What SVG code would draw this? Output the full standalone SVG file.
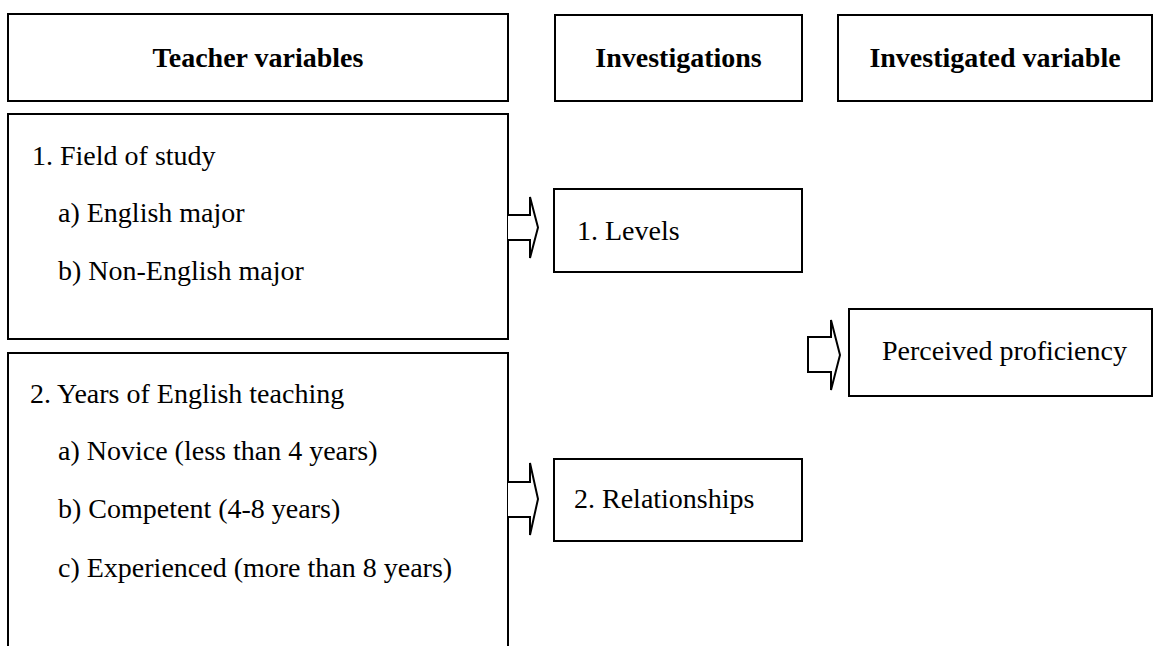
<svg xmlns="http://www.w3.org/2000/svg" width="1160" height="646" viewBox="0 0 1160 646">
<style>
.box{fill:#fff;stroke:#000;stroke-width:2}
.arr{fill:#fff;stroke:#000;stroke-width:2;stroke-linejoin:miter}
.h{font-family:"Liberation Serif","Times New Roman",serif;font-weight:bold;font-size:28px;fill:#000;text-anchor:middle}
.t{font-family:"Liberation Serif","Times New Roman",serif;font-size:28px;fill:#000}
</style>
<rect width="1160" height="646" fill="#fff"/>
<g id="teacher-variables">
<rect class="box" x="8" y="14" width="500" height="87"/>
<text class="h" x="258" y="67">Teacher variables</text>
</g>
<g id="investigations">
<rect class="box" x="555" y="15" width="247" height="86"/>
<text class="h" x="678.5" y="67">Investigations</text>
</g>
<g id="investigated-variable">
<rect class="box" x="838" y="15" width="314" height="86"/>
<text class="h" x="995" y="67">Investigated variable</text>
</g>
<g id="field-of-study">
<rect class="box" x="8" y="114" width="500" height="225"/>
<text class="t" x="32" y="165">1. Field of study</text>
<text class="t" x="58" y="222">a) English major</text>
<text class="t" x="58" y="280">b) Non-English major</text>
</g>
<g id="years-teaching">
<rect class="box" x="8" y="353" width="500" height="310"/>
<text class="t" x="30" y="403">2. Years of English teaching</text>
<text class="t" x="58" y="460">a) Novice (less than 4 years)</text>
<text class="t" x="58" y="518">b) Competent (4-8 years)</text>
<text class="t" x="58" y="577">c) Experienced (more than 8 years)</text>
</g>
<g id="levels">
<rect class="box" x="554" y="189" width="248" height="83"/>
<text class="t" x="577" y="240">1. Levels</text>
</g>
<g id="relationships">
<rect class="box" x="554" y="459" width="248" height="82"/>
<text class="t" x="574" y="508">2. Relationships</text>
</g>
<g id="perceived-proficiency">
<rect class="box" x="849" y="309" width="303" height="87"/>
<text class="t" x="882" y="360">Perceived proficiency</text>
</g>
<g id="connectors">
<path class="arr" d="M508,215 H530 V197 L538,227.5 L530,258 V240 H508"/>
<path class="arr" d="M508,482 H530 V463 L538,499 L530,535 V517 H508"/>
<path class="arr" d="M808,337 H831 V320 L840,355 L831,390 V372 H808 Z"/>
</g>
</svg>
